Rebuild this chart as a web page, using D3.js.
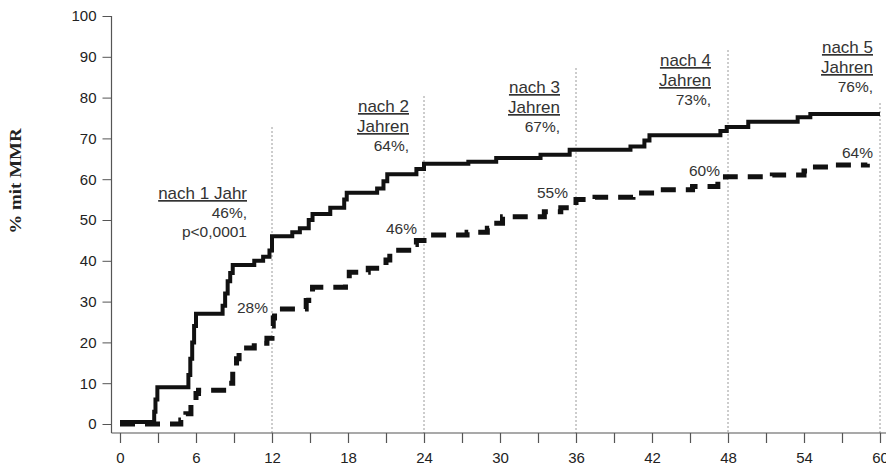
<!DOCTYPE html>
<html>
<head>
<meta charset="utf-8">
<script src="https://cdn.jsdelivr.net/npm/d3@7"></script>
<style>
  body { margin: 0; background: #fff; }
  svg { display: block; font-family: "Liberation Sans", Arial, sans-serif; }
  .tick text { fill: #222; font-size: 15px; }
  .note { fill: #333; }
</style>
</head>
<body>
<svg id="chart" width="886" height="469"></svg>
<script>
// months since start, % with MMR (step-after curves)
const solidMonths = [0, 2.7, 2.8, 2.95, 5.4, 5.55, 5.7, 5.85, 6.0, 8.1, 8.3, 8.5, 8.7, 8.9, 10.6, 11.3, 11.8, 12.0,
    13.6, 14.2, 14.9, 15.2, 16.6, 17.7, 17.9, 20.3, 20.8, 21.1, 23.4, 24.0, 27.5, 29.7, 33.2, 35.5,
    40.3, 41.4, 41.8, 47.4, 47.9, 49.6, 53.5, 54.5, 60];
const solidValues = [0.5, 3, 6, 9, 12, 16, 20, 24, 27, 29, 32, 35, 37, 39, 40, 41, 42.5, 46,
    47, 48, 50, 51.5, 53, 55, 56.7, 57.7, 59.5, 61.2, 62.5, 63.8, 64.3, 65.2, 66, 67.2,
    68, 69.5, 70.8, 71.8, 72.8, 74.1, 75.2, 76, 76];

const dashedMonths = [0, 4.8, 5.2, 5.6, 6.0, 6.2, 8.6, 8.9, 9.2, 9.4, 10.6, 11.6, 12.0, 12.1, 12.2,
    14.7, 14.9, 15.2, 17.8, 18.1, 19.6, 21.0, 21.3, 23.2, 23.4, 24.0, 27.4, 29.0, 29.4, 30.2,
    33.5, 34.8, 36.0, 37.5, 40.5, 42.5, 45.2, 47.2, 47.8, 51.5, 54.0, 54.3, 56.5, 59.0];
const dashedValues = [0, 1, 2.5, 5, 7.5, 8.3, 10, 13, 16, 18.6, 19.8, 21, 24, 26, 28.2,
    30.3, 32, 33.5, 35.3, 37.2, 38.2, 40.2, 42.6, 44, 45, 46.3, 47, 48, 49.2, 50.8,
    52, 53, 55, 55.6, 56.6, 57.4, 58.2, 59.4, 60.6, 61, 62, 63, 63.5, 63.8];

const milestoneMonths = [12, 24, 36, 48, 60];
const milestoneHeads = [["nach 1 Jahr"], ["nach 2", "Jahren"], ["nach 3", "Jahren"], ["nach 4", "Jahren"], ["nach 5", "Jahren"]];
const milestoneSolid = [["46%,", "p<0,0001"], ["64%,"], ["67%,"], ["73%,"], ["76%,"]];
const milestoneDashed = ["28%", "46%", "55%", "60%", "64%"];

const xTicks = d3.range(0, 61, 3);
const xTickLabels = d3.range(0, 61, 6);
const yTicks = d3.range(0, 101, 10);

// layout (pixels)
const lineTop = [127, 96, 68, 50, 103];
const headRight = [-25, -15, -16, -17, -7];
const headBase = [199, 112, 93, 66, 53];
const dashRight = [-4, -7, -8, -8, -7];
const dashBase = [313, 234, 198, 176, 158];

const svg = d3.select("#chart");
const axisY = 433;
const x = d3.scaleLinear().domain([0, 60]).range([120, 880]);
const y = d3.scaleLinear().domain([0, 100]).range([424, 16]);

// gray dotted year lines
milestoneMonths.forEach((m, i) => {
    svg.append("line")
        .attr("x1", x(m)).attr("x2", x(m))
        .attr("y1", lineTop[i]).attr("y2", axisY)
        .attr("stroke", "#9a9a9a")
        .attr("stroke-width", 1)
        .attr("stroke-dasharray", "2,2");
});

// axes
const yAxis = svg.append("g")
    .attr("transform", "translate(111.5,0)")
    .call(d3.axisLeft(y).tickValues(yTicks).tickSize(9).tickPadding(6).tickSizeOuter(0));
yAxis.select(".domain").remove();
yAxis.selectAll(".tick line").attr("stroke", "#555");
yAxis.append("line")
    .attr("x1", 0).attr("x2", 0)
    .attr("y1", y(100)).attr("y2", axisY)
    .attr("stroke", "#555").attr("stroke-width", 1.2);

const xAxis = svg.append("g")
    .attr("transform", "translate(0," + axisY + ")")
    .call(d3.axisBottom(x).tickValues(xTicks).tickSize(10).tickPadding(9)
        .tickFormat(d => xTickLabels.includes(d) ? d : ""));
xAxis.select(".domain").remove();
xAxis.selectAll(".tick line").attr("stroke", "#555").attr("stroke-width", 1.2);
xAxis.append("line")
    .attr("x1", 111.5).attr("x2", 886)
    .attr("y1", 0).attr("y2", 0)
    .attr("stroke", "#555").attr("stroke-width", 1.2);

// y title
svg.append("text")
    .attr("transform", "translate(21,181) rotate(-90) scale(1,0.85)")
    .attr("text-anchor", "middle")
    .style("font-family", "'Liberation Serif', 'Times New Roman', serif")
    .style("font-weight", "bold")
    .style("font-size", "19px")
    .style("fill", "#222")
    .text("% mit MMR");

// curves
const line = d3.line()
    .x(d => x(d[0]))
    .y(d => y(d[1]))
    .curve(d3.curveStepAfter);

svg.append("path")
    .datum(d3.zip(dashedMonths, dashedValues))
    .attr("d", line)
    .attr("fill", "none")
    .attr("stroke", "#111")
    .attr("stroke-width", 5)
    .attr("stroke-dasharray", "15,10");

svg.append("path")
    .datum(d3.zip(solidMonths, solidValues))
    .attr("d", line)
    .attr("fill", "none")
    .attr("stroke", "#111")
    .attr("stroke-width", 4);

// annotations
milestoneMonths.forEach((m, i) => {
    const rx = x(m) + headRight[i];
    let base = headBase[i];
    milestoneHeads[i].forEach(t => {
        svg.append("text")
            .attr("class", "note")
            .attr("x", rx).attr("y", base)
            .attr("text-anchor", "end")
            .style("font-size", "17px")
            .style("text-decoration", "underline")
            .text(t);
        base += 20;
    });
    base -= 1;
    milestoneSolid[i].forEach(t => {
        svg.append("text")
            .attr("class", "note")
            .attr("x", rx).attr("y", base)
            .attr("text-anchor", "end")
            .style("font-size", "15.5px")
            .text(t);
        base += 19;
    });
    svg.append("text")
        .attr("class", "note")
        .attr("x", x(m) + dashRight[i]).attr("y", dashBase[i])
        .attr("text-anchor", "end")
        .style("font-size", "15.5px")
        .text(milestoneDashed[i]);
});
</script>
</body>
</html>
